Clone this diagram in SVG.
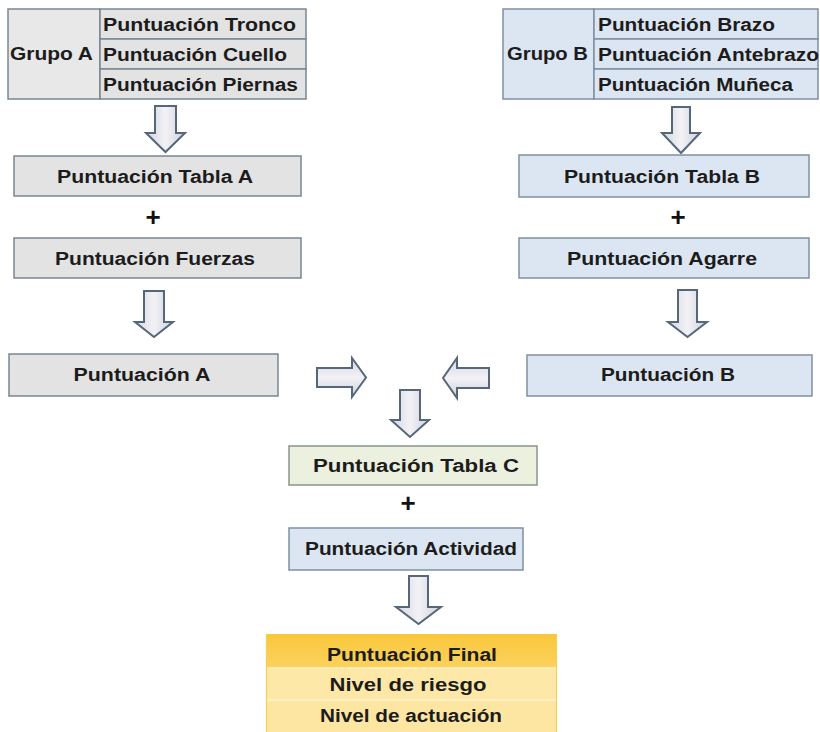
<svg xmlns="http://www.w3.org/2000/svg" width="820" height="732" viewBox="0 0 820 732">
<defs>
<linearGradient id="arrV" x1="0" y1="0" x2="1" y2="0">
<stop offset="0" stop-color="#d4d6e0"/><stop offset="0.5" stop-color="#f2f2f6"/><stop offset="1" stop-color="#cfd1db"/>
</linearGradient>
<linearGradient id="arrH" x1="0" y1="0" x2="0" y2="1">
<stop offset="0" stop-color="#d4d6e0"/><stop offset="0.5" stop-color="#f2f2f6"/><stop offset="1" stop-color="#cfd1db"/>
</linearGradient>
<linearGradient id="gold" x1="0" y1="0" x2="0" y2="1">
<stop offset="0" stop-color="#f9c73a"/><stop offset="1" stop-color="#fbd25e"/>
</linearGradient>
<style>
.t{font-family:"Liberation Sans",Arial,sans-serif;font-weight:bold;font-size:18px;fill:#1c1c1c;}
.c{text-anchor:middle;}
.gray{fill:#e3e3e4;stroke:#7a8692;stroke-width:1.5;}
.gray2{fill:#e8e8e9;stroke:#7a8692;stroke-width:1.5;}
.blue{fill:#dce6f2;stroke:#7f90a3;stroke-width:1.5;}
.green{fill:#ebf1de;stroke:#8a948a;stroke-width:1.5;}
.arrow{stroke:#56677a;stroke-width:2;stroke-linejoin:miter;}
.plus{font-family:"Liberation Sans",Arial,sans-serif;font-weight:bold;font-size:26px;fill:#111;text-anchor:middle;}
</style>
</defs>
<rect width="820" height="732" fill="#ffffff"/>

<g id="grupoA">
<rect class="gray2" x="8" y="9" width="92" height="90"/>
<rect class="gray" x="100" y="9" width="206" height="30"/>
<rect class="gray" x="100" y="39" width="206" height="30"/>
<rect class="gray" x="100" y="69" width="206" height="30"/>
<text class="t" x="10" y="60" textLength="83" lengthAdjust="spacingAndGlyphs">Grupo A</text>
<text class="t" x="103" y="31" textLength="193" lengthAdjust="spacingAndGlyphs">Puntuación Tronco</text>
<text class="t" x="103" y="61" textLength="184" lengthAdjust="spacingAndGlyphs">Puntuación Cuello</text>
<text class="t" x="103" y="91" textLength="195" lengthAdjust="spacingAndGlyphs">Puntuación Piernas</text>
</g>

<g id="grupoB">
<rect class="blue" x="503" y="9" width="91" height="90"/>
<rect class="blue" x="594" y="9" width="224" height="30"/>
<rect class="blue" x="594" y="39" width="224" height="30"/>
<rect class="blue" x="594" y="69" width="224" height="30"/>
<text class="t" x="507" y="60" textLength="81" lengthAdjust="spacingAndGlyphs">Grupo B</text>
<text class="t" x="598" y="31" textLength="177" lengthAdjust="spacingAndGlyphs">Puntuación Brazo</text>
<text class="t" x="598" y="61" textLength="221" lengthAdjust="spacingAndGlyphs">Puntuación Antebrazo</text>
<text class="t" x="598" y="91" textLength="195" lengthAdjust="spacingAndGlyphs">Puntuación Muñeca</text>
</g>

<g id="tablaA">
<rect class="gray" x="14" y="156" width="287" height="40"/>
<text class="t c" x="155" y="183" textLength="196" lengthAdjust="spacingAndGlyphs">Puntuación Tabla A</text>
</g>
<g id="fuerzas">
<rect class="gray" x="14" y="238" width="287" height="40"/>
<text class="t c" x="155" y="265" textLength="200" lengthAdjust="spacingAndGlyphs">Puntuación Fuerzas</text>
</g>
<g id="puntA">
<rect class="gray" x="9" y="354" width="269" height="42"/>
<text class="t c" x="142" y="381" textLength="137" lengthAdjust="spacingAndGlyphs">Puntuación A</text>
</g>

<g id="tablaB">
<rect class="blue" x="519" y="155" width="290" height="42"/>
<text class="t c" x="662" y="183" textLength="196" lengthAdjust="spacingAndGlyphs">Puntuación Tabla B</text>
</g>
<g id="agarre">
<rect class="blue" x="519" y="238" width="290" height="40"/>
<text class="t c" x="662" y="265" textLength="190" lengthAdjust="spacingAndGlyphs">Puntuación Agarre</text>
</g>
<g id="puntB">
<rect class="blue" x="527" y="355" width="285" height="41"/>
<text class="t c" x="668" y="381" textLength="134" lengthAdjust="spacingAndGlyphs">Puntuación B</text>
</g>

<g id="tablaC">
<rect class="green" x="289" y="446" width="248" height="39"/>
<text class="t c" x="416" y="472" textLength="206" lengthAdjust="spacingAndGlyphs">Puntuación Tabla C</text>
</g>
<g id="actividad">
<rect class="blue" x="289" y="528" width="234" height="42"/>
<text class="t c" x="411" y="555" textLength="212" lengthAdjust="spacingAndGlyphs">Puntuación Actividad</text>
</g>

<g id="final">
<rect x="266" y="634" width="291" height="34" fill="url(#gold)"/>
<rect x="266" y="668" width="291" height="32" fill="#fde8a8"/>
<rect x="266" y="700" width="291" height="32" fill="#fde6a2"/>
<line x1="266" y1="668" x2="557" y2="668" stroke="#fff0c4" stroke-width="1.5"/>
<line x1="266" y1="700" x2="557" y2="700" stroke="#fff3cf" stroke-width="1.5"/>
<path d="M266.5,634 V732 M556.5,634 V732" stroke="#f3cf5a" stroke-width="1.2" fill="none"/>
<text class="t c" x="412" y="661" textLength="170" lengthAdjust="spacingAndGlyphs">Puntuación Final</text>
<text class="t c" x="408" y="691" textLength="157" lengthAdjust="spacingAndGlyphs">Nivel de riesgo</text>
<text class="t c" x="411" y="722" textLength="182" lengthAdjust="spacingAndGlyphs">Nivel de actuación</text>
</g>

<g id="operators">
<text class="plus" x="153" y="226">+</text>
<text class="plus" x="678" y="226">+</text>
<text class="plus" x="408" y="512">+</text>
</g>

<g id="connectors">
<path class="arrow" fill="url(#arrV)" d="M155,106 H176 V133 H185 L165.5,152 L146,133 H155 Z"/>
<path class="arrow" fill="url(#arrV)" d="M144,291 H164 V322 H173 L154,337 L135,322 H144 Z"/>
<path class="arrow" fill="url(#arrV)" d="M672,107 H690 V133 H700 L681,153 L662,133 H672 Z"/>
<path class="arrow" fill="url(#arrV)" d="M678,290 H697 V322 H707 L687.5,337 L668,322 H678 Z"/>
<path class="arrow" fill="url(#arrH)" d="M317,368 H352 V358 L366,377.5 L352,397 V387 H317 Z"/>
<path class="arrow" fill="url(#arrH)" d="M489,368 H457 V358 L443,378 L457,398 V388 H489 Z"/>
<path class="arrow" fill="url(#arrV)" d="M400,390 H420 V420 H429 L410,437 L391,420 H400 Z"/>
<path class="arrow" fill="url(#arrV)" d="M409,576 H428 V607 H441 L418.5,624 L396,607 H409 Z"/>
</g>
</svg>
